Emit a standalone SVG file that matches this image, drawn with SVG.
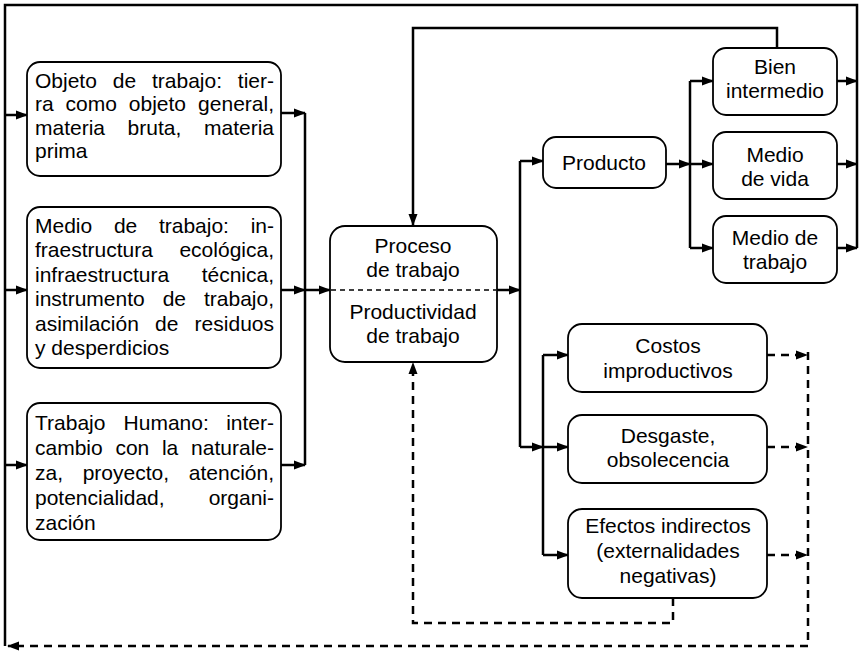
<svg xmlns="http://www.w3.org/2000/svg" width="861" height="654" viewBox="0 0 861 654">
<defs>
<marker id="ah" markerUnits="userSpaceOnUse" markerWidth="12" markerHeight="10" refX="11" refY="5" orient="auto" viewBox="0 0 12 10">
<path d="M0,0.5 L12,5 L0,9.5 z" fill="#000"/>
</marker>
<style>
.box{fill:#fff;stroke:#000;stroke-width:1.8}
.t{font-family:"Liberation Sans",Arial,sans-serif;font-size:21px;fill:#000}
.c{text-anchor:middle}
.e{text-anchor:end}
.ln{fill:none;stroke:#000;stroke-width:2.5}
.ar{fill:none;stroke:#000;stroke-width:2.5;marker-end:url(#ah)}
.dsa{fill:none;stroke:#000;stroke-width:2.5;stroke-dasharray:8 6;marker-end:url(#ah)}
.div{stroke:#000;stroke-width:1.5;stroke-dasharray:5 4}
</style>
</defs>
<rect width="861" height="654" fill="#fff"/>
<g id="connectors">
<path class="ln" d="M5,646 V5 H857 V248"/>
<path class="ar" d="M5,115 H27"/>
<path class="ar" d="M5,290 H27"/>
<path class="ar" d="M5,465 H27"/>
<path class="ar" d="M281,113 H305"/>
<path class="ar" d="M281,290 H305"/>
<path class="ar" d="M281,465 H305"/>
<path class="ln" d="M305,113 V465"/>
<path class="ar" d="M305,290 H330"/>
<path class="ar" d="M497,290 H520"/>
<path class="ln" d="M520,161 V447"/>
<path class="ar" d="M520,161 H543"/>
<path class="ar" d="M666,164 H690"/>
<path class="ln" d="M690,81 V248"/>
<path class="ar" d="M690,81 H713"/>
<path class="ar" d="M690,164 H713"/>
<path class="ar" d="M690,248 H713"/>
<path class="ar" d="M777,48 V28 H413 V225"/>
<path class="ar" d="M837,81 H857"/>
<path class="ar" d="M837,164 H857"/>
<path class="ar" d="M837,248 H857"/>
<path class="ar" d="M520,447 H543"/>
<path class="ln" d="M543,355 V555"/>
<path class="ar" d="M543,355 H568"/>
<path class="ar" d="M543,447 H568"/>
<path class="ar" d="M543,555 H568"/>
<path class="dsa" d="M767,355 H807"/>
<path class="dsa" d="M767,447 H807"/>
<path class="dsa" d="M767,555 H807"/>
<path class="dsa" d="M808,352 V646 H8"/>
<path class="dsa" d="M673,598 V623 H413 V363"/>
</g>
<g id="objeto">
<rect class="box" x="27" y="62" width="254" height="114" rx="13"/>
<text class="t" y="88"><tspan x="35">Objeto</tspan><tspan x="112.8">de</tspan><tspan x="152">trabajo:</tspan></text>
<text class="t e" x="274" y="88">tier-</text>
<text class="t" y="111"><tspan x="35">ra</tspan><tspan x="65.6">como</tspan><tspan x="128.8">objeto</tspan></text>
<text class="t e" x="274" y="111">general,</text>
<text class="t" x="35" y="135">materia</text>
<text class="t" x="127.6" y="135">bruta,</text>
<text class="t e" x="274" y="135">materia</text>
<text class="t" x="35" y="158">prima</text>
</g>
<g id="medio-trabajo-in">
<rect class="box" x="27" y="207" width="254" height="161" rx="13"/>
<text class="t" y="233"><tspan x="35">Medio</tspan><tspan x="113.9">de</tspan><tspan x="158.9">trabajo:</tspan></text>
<text class="t e" x="274" y="233">in-</text>
<text class="t" x="35" y="257">fraestructura</text>
<text class="t e" x="274" y="257">ecológica,</text>
<text class="t" x="35" y="282">infraestructura</text>
<text class="t e" x="274" y="282">técnica,</text>
<text class="t" y="306"><tspan x="35">instrumento</tspan><tspan x="162.7">de</tspan></text>
<text class="t e" x="274" y="306">trabajo,</text>
<text class="t" y="331"><tspan x="35">asimilación</tspan><tspan x="155.1">de</tspan></text>
<text class="t e" x="274" y="331">residuos</text>
<text class="t" x="35" y="355">y desperdicios</text>
</g>
<g id="trabajo-humano">
<rect class="box" x="27" y="403" width="254" height="137" rx="13"/>
<text class="t" y="430"><tspan x="35">Trabajo</tspan><tspan x="123.6">Humano:</tspan></text>
<text class="t e" x="274" y="430">inter-</text>
<text class="t" y="455"><tspan x="35">cambio</tspan><tspan x="115.4">con</tspan><tspan x="161.9">la</tspan></text>
<text class="t e" x="274" y="455">naturale-</text>
<text class="t" y="480"><tspan x="35">za,</tspan><tspan x="82.7">proyecto,</tspan></text>
<text class="t e" x="274" y="480">atención,</text>
<text class="t" x="35" y="505">potencialidad,</text>
<text class="t e" x="274" y="505">organi-</text>
<text class="t" x="35" y="530">zación</text>
</g>
<g id="proceso">
<rect class="box" x="330" y="226" width="167" height="136" rx="15"/>
<line class="div" x1="331" y1="290" x2="496" y2="290"/>
<text class="t c" x="413" y="253">Proceso</text>
<text class="t c" x="413" y="277">de trabajo</text>
<text class="t c" x="413" y="319">Productividad</text>
<text class="t c" x="413" y="343">de trabajo</text>
</g>
<g id="producto">
<rect class="box" x="543" y="137" width="123" height="51" rx="13"/>
<text class="t c" x="604" y="170">Producto</text>
</g>
<g id="bien-intermedio">
<rect class="box" x="713" y="48" width="124" height="67" rx="13"/>
<text class="t c" x="775" y="74">Bien</text>
<text class="t c" x="775" y="98">intermedio</text>
</g>
<g id="medio-vida">
<rect class="box" x="713" y="132" width="124" height="67" rx="13"/>
<text class="t c" x="775" y="162">Medio</text>
<text class="t c" x="775" y="186">de vida</text>
</g>
<g id="medio-trabajo-out">
<rect class="box" x="713" y="216" width="124" height="67" rx="13"/>
<text class="t c" x="775" y="245">Medio de</text>
<text class="t c" x="775" y="269">trabajo</text>
</g>
<g id="costos">
<rect class="box" x="568" y="324" width="199" height="68" rx="14"/>
<text class="t c" x="668" y="353">Costos</text>
<text class="t c" x="668" y="378">improductivos</text>
</g>
<g id="desgaste">
<rect class="box" x="568" y="415" width="199" height="68" rx="14"/>
<text class="t c" x="668" y="443">Desgaste,</text>
<text class="t c" x="668" y="467">obsolecencia</text>
</g>
<g id="efectos">
<rect class="box" x="568" y="509" width="199" height="89" rx="14"/>
<text class="t c" x="668" y="533">Efectos indirectos</text>
<text class="t c" x="668" y="558">(externalidades</text>
<text class="t c" x="668" y="583">negativas)</text>
</g>
</svg>
